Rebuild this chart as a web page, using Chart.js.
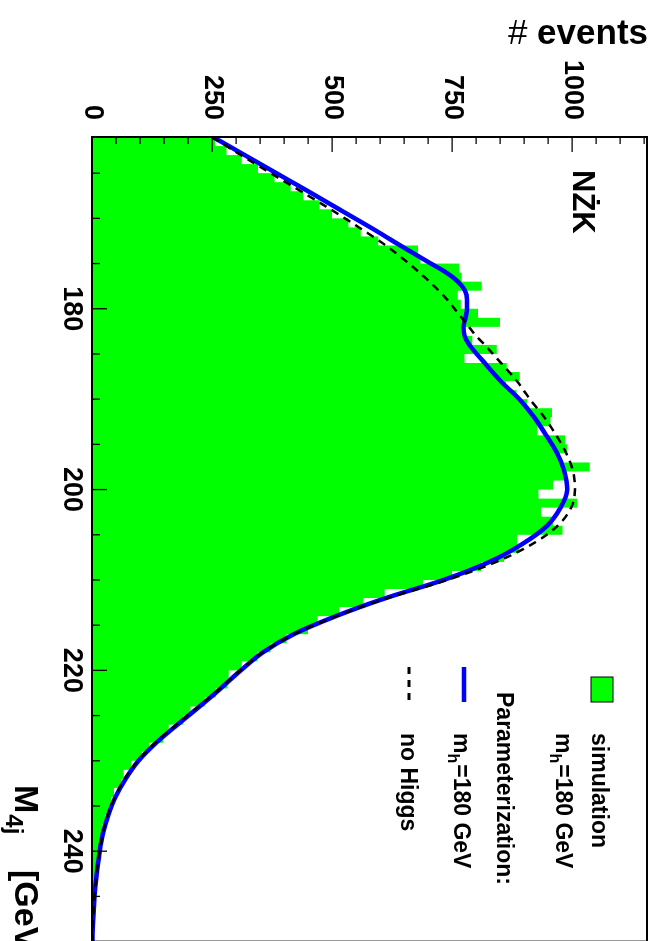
<!DOCTYPE html>
<html>
<head>
<meta charset="utf-8">
<script src="https://cdn.jsdelivr.net/npm/chart.js@4.4.1/dist/chart.umd.min.js"></script>
<style>
  html, body { margin: 0; padding: 0; width: 655px; height: 941px; overflow: hidden; background: #fff; }
  /* the ROOT plot is drawn landscape, then turned a quarter clockwise */
  #wrap { position: absolute; left: 0; top: 0; width: 960px; height: 655px;
          transform-origin: 0 0; transform: translate(655px, 0) rotate(90deg); }
</style>
</head>
<body>
<div id="wrap"><canvas id="c" width="960" height="655"></canvas></div>
<script>
// ── Data ─────────────────────────────────────────────────────
const massMin = 161, massMax = 250;     // M_4j axis range [GeV]
const binWidth = 1;                      // 1 GeV bins, first bin starts at massMin
const eventsMax = 1156;

// simulation (m_h = 180 GeV), events per bin
const simCounts = [
  256, 280, 312, 346, 380, 414, 440, 474, 500, 534,   // 161-170
  560, 596, 679, 684, 765, 770, 812, 762, 768, 804,   // 171-180
  850, 773, 792, 843, 776, 864, 891, 862, 884, 906,   // 181-190
  958, 955, 928, 985, 990, 975, 1037, 985, 960, 930,  // 191-200
  1010, 935, 960, 980, 885, 890, 858, 810, 750, 690,  // 201-210
  610, 565, 515, 470, 450, 405, 372, 344, 312, 285,   // 211-220
  282, 258, 235, 205, 190, 160, 148, 120, 104, 82,    // 221-230
  66, 62, 46, 40, 36, 28, 22, 20, 16, 13,             // 231-240
  11, 10, 7, 6, 5, 3, 3, 2, 1                         // 241-249
];

// parameterization curves, sampled at curveMass
const curveMass = [161, 163, 165, 167, 169, 171, 173, 175, 176, 177, 178, 179, 180, 181, 182, 183, 184,
  186, 188, 190, 192, 194, 196, 198, 200, 202, 204, 206, 208, 210, 212, 214, 216, 218, 220,
  222, 224, 226, 228, 230, 232, 234, 236, 238, 240, 242, 244, 246, 248, 250];
const higgsCurve = [252, 318, 384, 450, 515, 580, 642, 706, 738, 762, 777, 781, 781, 778, 774, 776, 786,
  818, 851, 890, 921, 946, 969, 984, 990, 976, 948, 897, 828, 732, 612, 508, 420, 356, 310,
  268, 224, 178, 134, 97, 70, 49, 34, 23, 16, 11, 7, 4, 2, 1];
const noHiggsCurve = [250, 310, 372, 435, 497, 556, 612, 660, 682, 703, 722, 740, 755, 770, 785, 800, 818,
  852, 885, 912, 942, 967, 988, 1002, 1006, 998, 970, 918, 842, 740, 616, 510, 421, 356, 309,
  267, 222, 176, 132, 96, 68, 48, 33, 23, 16, 11, 7, 4, 2, 1];

const massTicks = [180, 200, 220, 240];
const eventTicks = [0, 250, 500, 750, 1000];

// ── Chart ────────────────────────────────────────────────────
const FONT = '"Liberation Sans", Arial, Helvetica, sans-serif';
const GREEN = '#00ff00', BLUE = '#0000ff';

const histPoints = simCounts.map((v, i) => ({ x: massMin + i * binWidth, y: v }));
histPoints.push({ x: massMin + simCounts.length * binWidth, y: simCounts[simCounts.length - 1] });

// frame, inside ticks and the ROOT-style text (legend, labels)
const rootDecor = {
  id: 'rootDecor',
  afterDraw(chart) {
    const { ctx, chartArea: a, scales: { x, y } } = chart;
    ctx.save();

    // ticks inside the frame
    ctx.strokeStyle = '#000';
    ctx.lineWidth = 1.3;
    ctx.beginPath();
    for (let m = 165; m < massMax; m += 5) {
      const px = x.getPixelForValue(m);
      const len = massTicks.includes(m) ? 15 : 8;
      ctx.moveTo(px, a.bottom);
      ctx.lineTo(px, a.bottom - len);
    }
    for (let e = 50; e < eventsMax; e += 50) {
      const py = y.getPixelForValue(e);
      const len = eventTicks.includes(e) ? 15 : 7;
      ctx.moveTo(a.left, py);
      ctx.lineTo(a.left + len, py);
    }
    ctx.stroke();

    // frame
    ctx.lineWidth = 2;
    ctx.strokeRect(a.left, a.top, a.right - a.left, a.bottom - a.top);

    ctx.fillStyle = '#000';
    ctx.textAlign = 'left';
    ctx.textBaseline = 'alphabetic';

    // process label
    ctx.font = 'bold 31px ' + FONT;
    ctx.fillText('NŻK', 170, 82);

    // legend
    const legX = 733;
    ctx.fillStyle = GREEN;
    ctx.fillRect(677, 42, 25, 22);
    ctx.lineWidth = 1;
    ctx.strokeRect(677, 42, 25, 22);

    ctx.fillStyle = '#000';
    ctx.font = 'bold 23px ' + FONT;
    ctx.fillText('simulation', legX, 63);
    drawMh(ctx, legX, 99);
    ctx.font = 'bold 23px ' + FONT;
    ctx.fillText('Parameterization:', 692, 158);
    drawMh(ctx, legX, 201);
    ctx.font = 'bold 23px ' + FONT;
    ctx.fillText('no Higgs', legX, 254);

    ctx.strokeStyle = BLUE;
    ctx.lineWidth = 4.5;
    ctx.beginPath(); ctx.moveTo(667, 191); ctx.lineTo(702, 191); ctx.stroke();
    ctx.strokeStyle = '#000';
    ctx.lineWidth = 3;
    ctx.setLineDash([7, 6]);
    ctx.beginPath(); ctx.moveTo(667, 246); ctx.lineTo(702, 246); ctx.stroke();
    ctx.setLineDash([]);

    // x axis title: M_4j [GeV]
    ctx.font = 'bold 34px ' + FONT;
    ctx.fillText('M', 785, 640);
    const mw = ctx.measureText('M').width;
    ctx.font = 'bold 24px ' + FONT;
    ctx.fillText('4j', 785 + mw + 1, 649);
    ctx.font = 'bold 34px ' + FONT;
    ctx.fillText('[GeV]', 870, 640);

    // y axis title stays horizontal on the page
    ctx.translate(44, 7);
    ctx.rotate(-Math.PI / 2);
    ctx.textAlign = 'right';
    ctx.font = 'bold 35px ' + FONT;
    ctx.fillText('events', 0, 0);
    const ew = ctx.measureText('events').width;
    ctx.font = '35px ' + FONT;
    ctx.fillText('# ', -ew, 0);

    ctx.restore();
  }
};

function drawMh(ctx, x0, base) {
  ctx.font = 'bold 23px ' + FONT;
  ctx.fillText('m', x0, base);
  const w1 = ctx.measureText('m').width;
  ctx.font = 'bold 16px ' + FONT;
  ctx.fillText('h', x0 + w1, base + 6);
  const w2 = ctx.measureText('h').width;
  ctx.font = 'bold 23px ' + FONT;
  ctx.fillText('=180 GeV', x0 + w1 + w2 + 1, base);
}

new Chart(document.getElementById('c'), {
  type: 'line',
  data: {
    datasets: [
      {
        label: 'no Higgs',
        data: curveMass.map((m, i) => ({ x: m, y: noHiggsCurve[i] })),
        borderColor: '#000',
        borderWidth: 2.5,
        borderDash: [8, 6],
        pointRadius: 0,
        cubicInterpolationMode: 'monotone',
        fill: false,
        order: 1,
      },
      {
        label: 'm_h=180 GeV',
        data: curveMass.map((m, i) => ({ x: m, y: higgsCurve[i] })),
        borderColor: BLUE,
        borderWidth: 4.5,
        pointRadius: 0,
        cubicInterpolationMode: 'monotone',
        fill: false,
        order: 2,
      },
      {
        label: 'simulation',
        data: histPoints,
        stepped: 'before',
        borderWidth: 0,
        borderColor: GREEN,
        backgroundColor: GREEN,
        pointRadius: 0,
        fill: 'origin',
        order: 3,
      },
    ],
  },
  options: {
    responsive: false,
    animation: false,
    events: [],
    layout: { padding: { left: 0, top: 8, right: 18.4, bottom: 0 } },
    plugins: { legend: { display: false }, tooltip: { enabled: false } },
    scales: {
      x: {
        type: 'linear',
        min: massMin,
        max: massMax,
        grid: { display: false, drawTicks: false },
        border: { display: false },
        afterBuildTicks: s => { s.ticks = massTicks.map(v => ({ value: v })); },
        afterFit: s => { s.height = 92; s.paddingLeft = 0; s.paddingRight = 0; },
        ticks: { color: '#000', padding: 4, maxRotation: 0, callback: v => String(v),
                 font: { family: FONT, size: 27, weight: 'bold' } },
      },
      y: {
        type: 'linear',
        min: 0,
        max: eventsMax,
        grid: { display: false, drawTicks: false },
        border: { display: false },
        afterBuildTicks: s => { s.ticks = eventTicks.map(v => ({ value: v })); },
        afterFit: s => { s.width = 137; s.paddingTop = 0; s.paddingBottom = 0; },
        ticks: { color: '#000', padding: 17, callback: v => String(v),
                 font: { family: FONT, size: 27, weight: 'bold' } },
      },
    },
  },
  plugins: [rootDecor],
});
</script>
</body>
</html>
